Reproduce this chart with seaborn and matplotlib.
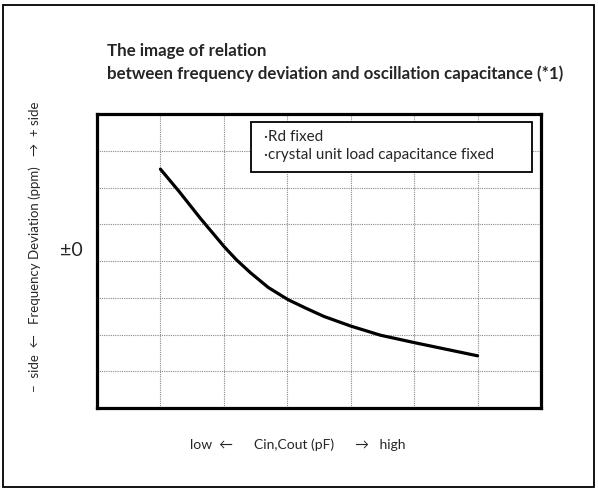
import matplotlib
matplotlib.use("Agg")
import matplotlib.pyplot as plt
import seaborn as sns
import pandas as pd
from matplotlib.patches import Rectangle

# Кривая (x — клетки сетки, y — клетки снизу)
cap_x = [1.0, 1.3, 1.63, 2.01, 2.2, 2.42, 2.7, 3.01, 3.3, 3.58, 4.0, 4.47, 5.0, 5.5, 6.0]
dev_y = [6.50, 5.88, 5.16, 4.38, 4.03, 3.68, 3.28, 2.95, 2.71, 2.49, 2.23, 1.98, 1.78, 1.60, 1.42]
grid_x = [0, 1, 2, 3, 4, 5, 6, 7]
grid_y = [0, 1, 2, 3, 4, 5, 6, 7, 8]
zero_level = 4.28
notes = ["·Rd fixed", "·crystal unit load capacitance fixed"]

df = pd.DataFrame({"cap": cap_x, "dev": dev_y})

sns.set_style("white")
plt.rcParams["font.family"] = ["Lato", "DejaVu Sans"]

fig = plt.figure(figsize=(5.98, 4.92), dpi=100)
ax = fig.add_axes([97 / 598, 84 / 492, 444 / 598, 294 / 492])

sns.lineplot(data=df, x="cap", y="dev", color="black", linewidth=2.3, ax=ax)

ax.set_xlim(0, 7)
ax.set_ylim(0, 8)
ax.set_xticks(grid_x)
ax.set_yticks(grid_y)
ax.set_xticklabels([])
ax.set_yticklabels([])
ax.set_xlabel("")
ax.set_ylabel("")
ax.tick_params(length=0)
ax.grid(True, linestyle=(0, (1, 1)), color="#888888", linewidth=0.8)
for s in ax.spines.values():
    s.set_visible(True)
    s.set_color("black")
    s.set_linewidth(2.3)

# подписи осей
fig.text(190 / 598, 1 - 445 / 492, "low  ←      Cin,Cout (pF)      →   high", fontsize=10,
         va="center", ha="left")
fig.text(35 / 598, 1 - 247 / 492, "−  side  ←   Frequency Deviation (ppm)   →  + side",
         fontsize=9.5, rotation=90, va="center", ha="center")
ax.text(-0.23, zero_level, "±0", fontsize=14, ha="right", va="center")

# рамка с условиями
ax.add_patch(Rectangle((2.43, 6.43), 4.43, 1.36, facecolor="white", edgecolor="black",
                       linewidth=1.3, zorder=3))
ax.text(2.64, 7.37, notes[0], fontsize=11, va="center", zorder=4)
ax.text(2.64, 6.88, notes[1], fontsize=11, va="center", zorder=4)

fig.text(107 / 598, 1 - 51 / 492, "The image of relation", fontsize=12.2, fontweight="bold",
         va="center")
fig.text(107 / 598, 1 - 74 / 492,
         "between frequency deviation and oscillation capacitance (*1)",
         fontsize=12.2, fontweight="bold", va="center")

fig.patches.append(Rectangle((3 / 598, 5 / 492), 591 / 598, 482 / 492, fill=False,
                             edgecolor="black", linewidth=1.3,
                             transform=fig.transFigure, figure=fig))

fig.savefig("out.png", dpi=100)
